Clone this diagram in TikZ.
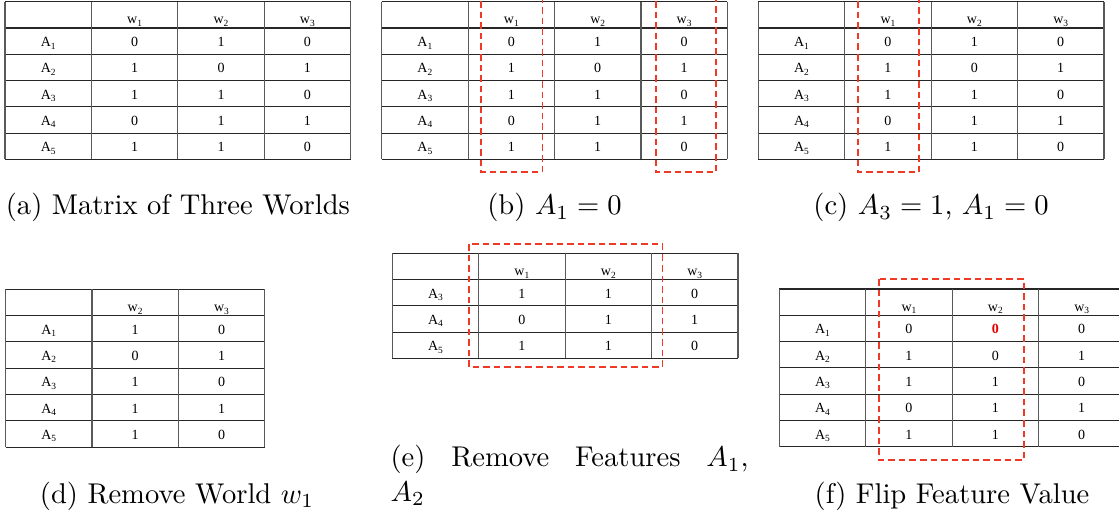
\documentclass[tikz,border=0pt]{standalone}
\usepackage{fontspec}
\newfontfamily\tabrm{Liberation Serif}
\definecolor{selred}{RGB}{238,58,36}
\definecolor{flipred}{RGB}{230,0,0}
\newcommand\tabfont{\tabrm\fontsize{4.9}{5.8}\selectfont}
\newcommand\sbs[1]{\raisebox{-0.85pt}{\fontsize{3.3}{3.8}\selectfont #1}}
\newcommand\flipv{\textcolor{flipred}{\bfseries 0}}
\newcommand\tcw{86.4}
\newcommand\trh{26.3}
\tikzset{
  hl/.style={line width=0.36pt, draw=black!85},
  vl/.style={line width=0.42pt, draw=black!65},
  cellbox/.style={anchor=base, inner sep=0pt, font=\tabfont},
  selbox/.style={draw=selred, line width=0.56pt, dash pattern=on 2.3pt off 1.4pt},
  captext/.style={anchor=base, inner sep=0pt, font=\fontsize{10}{12}\selectfont}
}
% grid: x, y, ncols, nrows
\newcommand\tgrid[4]{%
  \foreach \k in {0,...,#4} \draw[hl] (#1,{#2+\k*\trh}) -- ++({#3*\tcw},0);
  \foreach \k in {0,...,#3} \draw[vl] ({#1+\k*\tcw},#2) -- ++(0,{#4*\trh});
}
% header: x, y, name, list
\newcommand\thead[4]{%
  \foreach \h [count=\j] in {#4}
    \node[cellbox] (#3-h\j) at ({#1+(\j+0.5)*\tcw},{#2+22.3}) {w\sbs{\h}};
}
% rows with three worlds: x, y, name, list a/p/q/s
\newcommand\trowsthree[4]{%
  \foreach \a/\p/\q/\s [count=\i] in {#4} {
    \node[cellbox] (#3-\i-0) at ({#1+0.5*\tcw},{#2+\i*\trh+18.6}) {A\sbs{\a}};
    \node[cellbox] (#3-\i-1) at ({#1+1.5*\tcw},{#2+\i*\trh+18.6}) {\p};
    \node[cellbox] (#3-\i-2) at ({#1+2.5*\tcw},{#2+\i*\trh+18.6}) {\q};
    \node[cellbox] (#3-\i-3) at ({#1+3.5*\tcw},{#2+\i*\trh+18.6}) {\s};
  }
}
% rows with two worlds: x, y, name, list a/p/q
\newcommand\trowstwo[4]{%
  \foreach \a/\p/\q [count=\i] in {#4} {
    \node[cellbox] (#3-\i-0) at ({#1+0.5*\tcw},{#2+\i*\trh+18.6}) {A\sbs{\a}};
    \node[cellbox] (#3-\i-1) at ({#1+1.5*\tcw},{#2+\i*\trh+18.6}) {\p};
    \node[cellbox] (#3-\i-2) at ({#1+2.5*\tcw},{#2+\i*\trh+18.6}) {\q};
  }
}
\begin{document}
\begin{tikzpicture}[x=0.35pt, y=-0.35pt]
\path[use as bounding box] (0,0) rectangle (1119,512);
\clip (0,0) rectangle (1119,512);

% (a)
\tgrid{5}{1.7}{4}{6}
\thead{5}{1.7}{ta}{1,2,3}
\trowsthree{5}{1.7}{ta}{1/0/1/0, 2/1/0/1, 3/1/1/0, 4/0/1/1, 5/1/1/0}
\node[captext] (capa) at (177.9,215) {(a) Matrix of Three Worlds};

% (b)
\tgrid{381.7}{1.7}{4}{6}
\thead{381.7}{1.7}{tb}{1,2,3}
\trowsthree{381.7}{1.7}{tb}{1/0/1/0, 2/1/0/1, 3/1/1/0, 4/0/1/1, 5/1/1/0}
\draw[selbox] (481,-20) rectangle (542.3,172.3);
\draw[selbox] (655.7,-20) rectangle (716,172.3);
\node[captext] (capb) at (554.5,215) {(b) $A_1=0$};

% (c)
\tgrid{758.3}{1.7}{4}{6}
\thead{758.3}{1.7}{tc}{1,2,3}
\trowsthree{758.3}{1.7}{tc}{1/0/1/0, 2/1/0/1, 3/1/1/0, 4/0/1/1, 5/1/1/0}
\draw[selbox] (857.7,-20) rectangle (919,172.3);
\node[captext] (capc) at (931,215) {(c) $A_3=1$, $A_1=0$};

% (d)
\tgrid{5.5}{289.3}{3}{6}
\thead{5.5}{289.3}{td}{2,3}
\trowstwo{5.5}{289.3}{td}{1/1/0, 2/0/1, 3/1/0, 4/1/1, 5/1/0}
\node[captext] (capd) at (177,503) {(d) Remove World $w_1$};

% (e)
\tgrid{392.3}{253.3}{4}{4}
\thead{392.3}{253.3}{te}{1,2,3}
\trowsthree{392.3}{253.3}{te}{3/1/1/0, 4/0/1/1, 5/1/1/0}
\draw[selbox] (469,244) rectangle (662.3,367.3);
\node[captext, anchor=north west, align=left] (cape) at (390,445)
  {\makebox[125.3pt][s]{(e) Remove Features $A_1$,}\\$A_2$};

% (f)
\tgrid{779.3}{289}{4}{6}
\thead{779.3}{289}{tf}{1,2,3}
\trowsthree{779.3}{289}{tf}{1/0/\flipv/0, 2/1/0/1, 3/1/1/0, 4/0/1/1, 5/1/1/0}
\draw[selbox] (879,279) rectangle (1024,460);
\node[captext] (capf) at (952,503) {(f) Flip Feature Value};
\end{tikzpicture}
\end{document}
